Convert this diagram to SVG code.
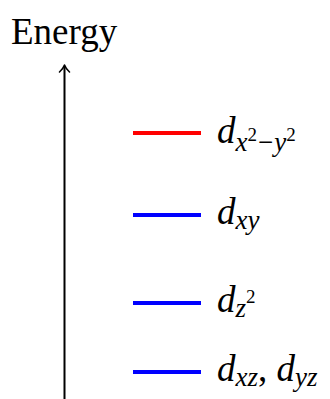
<svg xmlns="http://www.w3.org/2000/svg" width="330" height="399" viewBox="0 0 330 399">
<style>
text{font-family:"Liberation Serif","Times New Roman",serif;fill:#000}
.m{font-size:37px;font-style:italic}
.s{font-size:27px;font-style:italic}
.ss{font-size:19px;font-style:normal}
.n{font-style:normal}
.lvl{stroke-width:4;fill:none}
.red{stroke:#ff0000}
.blue{stroke:#0000ff}
</style>
<g id="axis">
<text x="11" y="44" font-size="37">Energy</text>
<g id="connectors">
<line x1="64.5" y1="399" x2="64.5" y2="66" stroke="#000" stroke-width="2"/>
<path d="M59.5 72 Q63 69 64.5 65 Q66 69 69.5 72" fill="none" stroke="#000" stroke-width="1.6" stroke-linecap="round" stroke-linejoin="round"/>
</g>
</g>
<g id="dx2y2">
<line class="lvl red" x1="133" y1="133" x2="201" y2="133"/>
<text x="217" y="143" class="m">d<tspan class="s" dy="8">x</tspan><tspan class="ss" dy="-10">2</tspan><tspan class="s n" dy="10" dx="1">−</tspan><tspan class="s" dx="1">y</tspan><tspan class="ss" dy="-10">2</tspan></text>
</g>
<g id="dxy">
<line class="lvl blue" x1="133" y1="215" x2="201" y2="215"/>
<text x="217" y="224" class="m">d<tspan class="s" dy="5">xy</tspan></text>
</g>
<g id="dz2">
<line class="lvl blue" x1="133" y1="303" x2="201" y2="303"/>
<text x="217" y="312" class="m">d<tspan class="s" dy="5">z</tspan><tspan class="ss" dy="-14">2</tspan></text>
</g>
<g id="dxzyz">
<line class="lvl blue" x1="133" y1="372" x2="201" y2="372"/>
<text x="217" y="381" class="m">d<tspan class="s" dy="5">xz</tspan><tspan class="n" dy="-5">, </tspan><tspan>d</tspan><tspan class="s" dy="5">yz</tspan></text>
</g>
</svg>
